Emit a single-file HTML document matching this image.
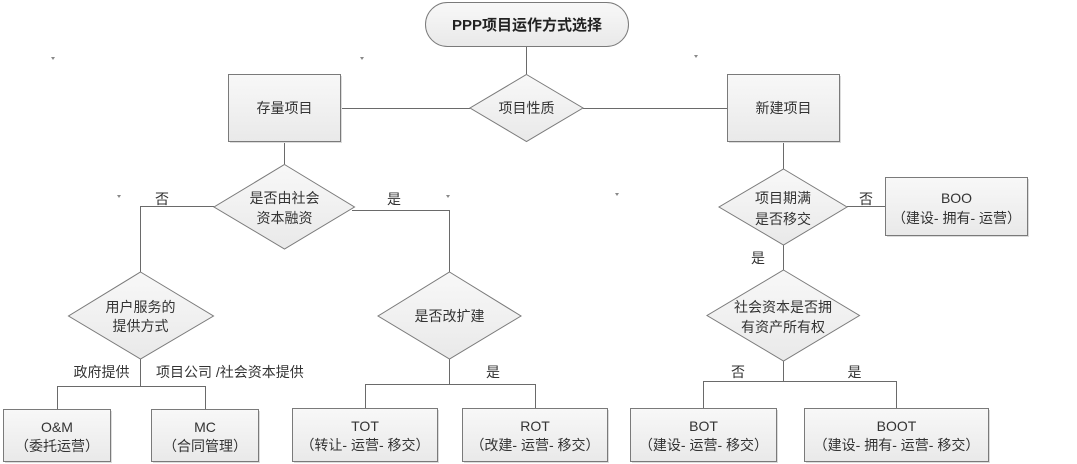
<!DOCTYPE html>
<html><head><meta charset="utf-8"><style>
html,body{margin:0;padding:0;background:#fff;}
svg{display:block;}
text{font-family:"Liberation Sans","Noto Sans CJK SC","WenQuanYi Zen Hei",sans-serif;font-size:14px;fill:#333;text-anchor:middle;}
</style></head><body>
<svg width="1077" height="464" viewBox="0 0 1077 464" xmlns="http://www.w3.org/2000/svg">
<defs>
<linearGradient id="g" x1="0" y1="0" x2="0" y2="1">
<stop offset="0" stop-color="#f8f8f8"/><stop offset="1" stop-color="#e9e9e9"/>
</linearGradient>
</defs>
<g stroke="#6a6a6a" stroke-width="1" fill="none">
<!-- connectors -->
<line x1="526.5" y1="47" x2="526.5" y2="74"/>
<line x1="340" y1="108.5" x2="470" y2="108.5"/>
<line x1="583" y1="108.5" x2="727" y2="108.5"/>
<line x1="284.5" y1="141" x2="284.5" y2="164"/>
<polyline points="214,206.5 140.5,206.5 140.5,272"/>
<polyline points="352,210.5 449.5,210.5 449.5,272"/>
<line x1="140.5" y1="359" x2="140.5" y2="386.5"/>
<polyline points="57.5,409 57.5,386.5 205.5,386.5 205.5,409"/>
<line x1="449.5" y1="359" x2="449.5" y2="384.5"/>
<polyline points="365.5,408 365.5,384.5 535.5,384.5 535.5,408"/>
<line x1="783.5" y1="141" x2="783.5" y2="169"/>
<line x1="847" y1="206.5" x2="885" y2="206.5"/>
<line x1="783.5" y1="245" x2="783.5" y2="270"/>
<line x1="783.5" y1="361" x2="783.5" y2="381.5"/>
<polyline points="703.5,408 703.5,381.5 896.5,381.5 896.5,408"/>
</g>
<!-- shadows -->
<g fill="#dcdcdc">
<rect x="230" y="76" width="112" height="67"/>
<rect x="729" y="76" width="112" height="67"/>
<rect x="887" y="179" width="142" height="58"/>
<rect x="5" y="411" width="107" height="52"/>
<rect x="153" y="411" width="107" height="52"/>
<rect x="294" y="410" width="145" height="53"/>
<rect x="464" y="410" width="145" height="53"/>
<rect x="632" y="410" width="146" height="53"/>
<rect x="806" y="410" width="184" height="53"/>
</g>
<g fill="url(#g)" stroke="#7a7a7a" stroke-width="1">
<rect x="425.5" y="2.5" width="203" height="44" rx="22" ry="22"/>
<polygon points="526.5,74.5 583,108 526.5,141.5 470,108"/>
<rect x="228.5" y="74.5" width="112" height="67"/>
<rect x="727.5" y="74.5" width="112" height="67"/>
<polygon points="284.5,164.5 354.5,207 284.5,249 214,207"/>
<polygon points="140.5,272 213.5,316 140.5,359 68.5,316"/>
<polygon points="449.5,272 521,316 449.5,359 378,316"/>
<polygon points="783.5,169 847,207 783.5,245 719,207"/>
<rect x="885.5" y="177.5" width="142" height="58"/>
<polygon points="783.5,270 859.5,315.5 783.5,361 707,315.5"/>
<rect x="3.5" y="409.5" width="107" height="52"/>
<rect x="151.5" y="409.5" width="107" height="52"/>
<rect x="292.5" y="408.5" width="145" height="53"/>
<rect x="462.5" y="408.5" width="145" height="53"/>
<rect x="630.5" y="408.5" width="146" height="53"/>
<rect x="804.5" y="408.5" width="184" height="53"/>
</g>
<!-- tick marks -->
<g fill="#888">
<polygon points="51,57 55,57 53,60"/>
<polygon points="360,57 364,57 362,60"/>
<polygon points="694,55 698,55 696,58"/>
<polygon points="117,195 121,195 119,198"/>
<polygon points="446,195 450,195 448,198"/>
<polygon points="615,193 619,193 617,196"/>
</g>
<!-- text -->
<text x="527" y="30" style="font-weight:bold;font-size:15px;fill:#222">PPP项目运作方式选择</text>
<text x="526.5" y="113">项目性质</text>
<text x="284.5" y="113">存量项目</text>
<text x="783.5" y="113">新建项目</text>
<text x="284.5" y="203">是否由社会</text>
<text x="284.5" y="223">资本融资</text>
<text x="162" y="204">否</text>
<text x="394" y="204">是</text>
<text x="140.5" y="312">用户服务的</text>
<text x="140.5" y="331">提供方式</text>
<text x="449.5" y="321">是否改扩建</text>
<text x="101.5" y="377">政府提供</text>
<text x="156" y="377" style="text-anchor:start">项目公司 /社会资本提供</text>
<text x="493" y="377">是</text>
<text x="57" y="432">O&amp;M</text>
<text x="57" y="451">（委托运营）</text>
<text x="205" y="432">MC</text>
<text x="205" y="451">（合同管理）</text>
<text x="365" y="431">TOT</text>
<text x="365" y="450">（转让- 运营- 移交）</text>
<text x="535" y="431">ROT</text>
<text x="535" y="450">（改建- 运营- 移交）</text>
<text x="783" y="203">项目期满</text>
<text x="783" y="224">是否移交</text>
<text x="866" y="204">否</text>
<text x="956.5" y="203">BOO</text>
<text x="956.5" y="223">（建设- 拥有- 运营）</text>
<text x="758" y="263">是</text>
<text x="783" y="312">社会资本是否拥</text>
<text x="783" y="332">有资产所有权</text>
<text x="738" y="377">否</text>
<text x="854.5" y="377">是</text>
<text x="703.5" y="431">BOT</text>
<text x="703.5" y="450">（建设- 运营- 移交）</text>
<text x="896.5" y="431">BOOT</text>
<text x="896.5" y="450">（建设- 拥有- 运营- 移交）</text>
</svg>
</body></html>
